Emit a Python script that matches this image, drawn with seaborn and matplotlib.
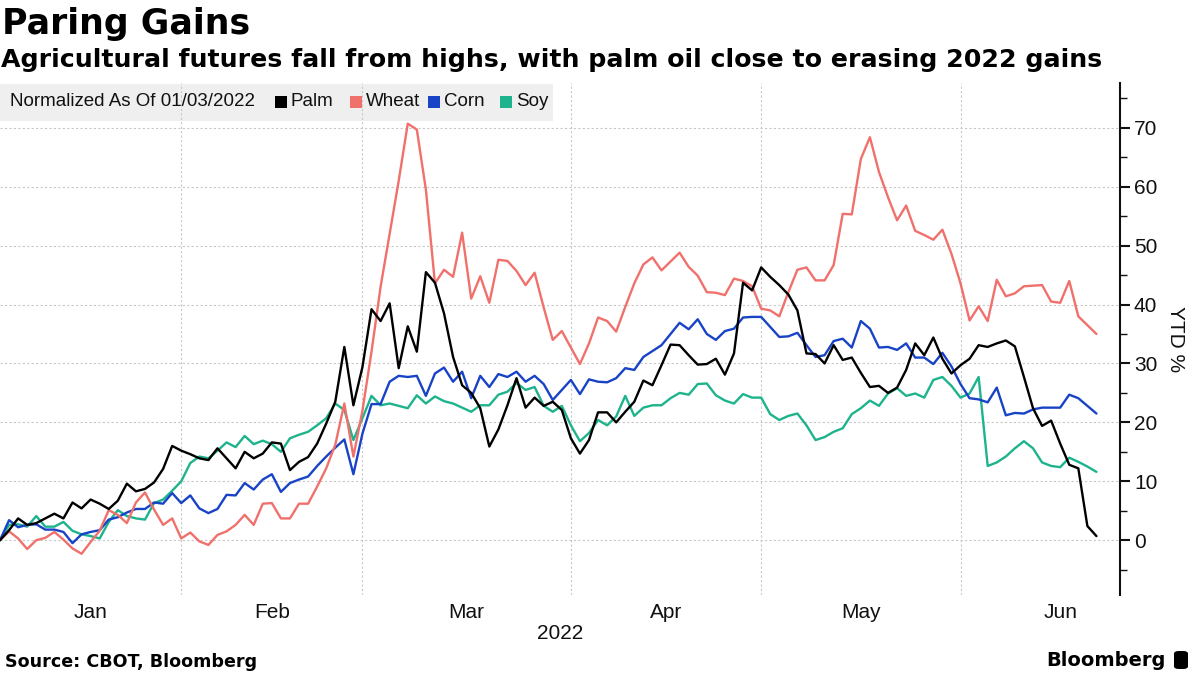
import pandas as pd
import matplotlib.pyplot as plt
import matplotlib.ticker as mticker
from matplotlib.patches import Rectangle, FancyBboxPatch
import seaborn as sns

# Giorni di borsa (il 17 gennaio manca nella serie)
dates = pd.bdate_range('2022-01-03', '2022-06-22').drop(pd.Timestamp('2022-01-17'))

# Valori YTD %
palm = [0, 1.7, 3.7, 2.6, 2.9, 3.7, 4.5, 3.7, 6.4, 5.4,
        6.9, 6.2, 5.3, 6.7, 9.6, 8.3, 8.7, 9.8, 12.1, 16.0,
        15.2, 14.6, 13.9, 13.6, 15.6, 13.9, 12.2, 15.0, 13.9, 14.7,
        16.6, 16.4, 11.9, 13.3, 14.1, 16.4, 19.8, 23.5, 32.8, 22.9,
        29.4, 39.2, 37.2, 40.2, 29.2, 36.3, 32.0, 45.5, 43.7, 38.5,
        31.1, 26.3, 25.0, 22.4, 15.9, 18.8, 22.9, 27.5, 22.5, 24.2,
        22.8, 23.5, 22.1, 17.3, 14.7, 17.0, 21.7, 21.7, 20.0, 21.8,
        23.5, 27.1, 26.3, 29.7, 33.2, 33.1, 31.4, 29.8, 29.9, 30.8,
        28.1, 31.7, 43.7, 42.4, 46.3, 44.7, 43.3, 41.7, 39.0, 31.7,
        31.6, 30.0, 33.1, 30.6, 31.0, 28.4, 26.0, 26.2, 25.0, 25.9,
        28.9, 33.4, 31.4, 34.4, 30.8, 28.3, 29.7, 30.8, 33.1, 32.8,
        33.4, 33.9, 32.9, 27.7, 22.4, 19.4, 20.3, 16.4, 12.8, 12.2,
        2.4, 0.7]
wheat = [0, 1.5, 0.3, -1.5, 0.0, 0.4, 1.4, 0.1, -1.4, -2.3,
         -0.3, 1.6, 5.1, 4.3, 2.9, 6.4, 8.1, 5.2, 2.6, 3.7,
         0.3, 1.3, -0.2, -0.8, 0.9, 1.5, 2.6, 4.3, 2.6, 6.2,
         6.3, 3.7, 3.7, 6.2, 6.2, 9.1, 12.2, 16.2, 23.2, 14.2,
         22.0, 32.0, 43.0, 52.0, 61.0, 70.7, 69.7, 59.5, 43.6, 45.9,
         44.7, 52.2, 41.0, 44.8, 40.3, 47.6, 47.4, 45.7, 43.3, 45.4,
         39.5, 34.0, 35.5, 32.7, 29.9, 33.4, 37.8, 37.2, 35.4, 39.6,
         43.6, 46.8, 48.0, 45.8, 47.3, 48.8, 46.4, 44.9, 42.1, 42.0,
         41.6, 44.4, 44.0, 43.1, 39.3, 39.0, 38.0, 42.1, 45.9, 46.3,
         44.1, 44.1, 46.7, 55.4, 55.3, 64.7, 68.4, 62.5, 58.2, 54.3,
         56.8, 52.5, 51.8, 51.0, 52.7, 48.6, 43.6, 37.3, 39.7, 37.2,
         44.2, 41.4, 41.9, 43.1, 43.2, 43.3, 40.5, 40.3, 44.0, 38.0,
         36.5, 35.0]
corn = [0, 3.4, 2.2, 2.6, 2.7, 1.8, 1.8, 1.4, -0.5, 1.0,
        1.4, 1.7, 3.5, 3.9, 4.7, 5.3, 5.3, 6.4, 6.2, 8.0,
        6.3, 7.6, 5.4, 4.6, 5.3, 7.7, 7.6, 9.7, 8.6, 10.3,
        11.2, 8.2, 9.7, 10.3, 10.8, 12.6, 14.2, 15.7, 17.1, 11.2,
        18.1, 23.1, 23.1, 26.9, 27.9, 27.7, 27.9, 24.5, 28.3, 29.3,
        26.9, 28.6, 24.1, 27.9, 26.0, 28.2, 27.7, 28.6, 26.9, 27.9,
        26.5, 23.8, 25.5, 27.2, 24.8, 27.3, 26.9, 26.8, 27.5, 29.2,
        28.9, 31.1, 32.1, 33.1, 35.0, 36.9, 35.8, 37.5, 35.0, 34.0,
        35.5, 35.9, 37.8, 37.9, 37.9, 36.2, 34.5, 34.6, 35.2, 33.1,
        31.1, 31.4, 33.8, 34.2, 32.7, 37.2, 35.9, 32.7, 32.8, 32.3,
        33.4, 31.0, 31.0, 29.9, 31.8, 29.5, 26.5, 24.1, 23.9, 23.4,
        25.9, 21.2, 21.6, 21.5, 22.2, 22.5, 22.5, 22.5, 24.7, 24.1,
        22.8, 21.5]
soy = [0, 2.6, 2.7, 2.3, 4.1, 2.3, 2.3, 3.1, 1.6, 1.0,
       0.7, 0.3, 3.1, 5.1, 4.1, 3.7, 3.5, 6.3, 6.9, 8.4,
       10.0, 13.1, 14.2, 13.9, 15.2, 16.6, 15.8, 17.7, 16.3, 16.9,
       16.3, 15.0, 17.3, 17.9, 18.4, 19.5, 20.7, 23.2, 22.1, 17.0,
       20.7, 24.5, 22.9, 23.2, 22.8, 22.4, 24.6, 23.2, 24.4, 23.6,
       23.2, 22.5, 21.8, 22.9, 22.9, 24.7, 25.2, 26.7, 25.5, 26.0,
       22.8, 21.8, 22.8, 19.5, 16.8, 18.2, 20.4, 19.5, 21.0, 24.5,
       21.1, 22.5, 22.9, 22.9, 24.1, 25.0, 24.7, 26.5, 26.6, 24.6,
       23.7, 23.2, 24.8, 24.2, 24.2, 21.4, 20.4, 21.1, 21.5, 19.5,
       17.0, 17.5, 18.4, 19.0, 21.4, 22.4, 23.7, 22.8, 24.9, 25.8,
       24.5, 24.9, 24.2, 27.2, 27.7, 26.2, 24.2, 24.9, 27.7, 12.6,
       13.2, 14.2, 15.6, 16.8, 15.6, 13.2, 12.6, 12.4, 14.0, 13.3,
       12.5, 11.6]

serie = ['Palm', 'Wheat', 'Corn', 'Soy']
colori = {'Palm': '#000000', 'Wheat': '#f0706c', 'Corn': '#1843c6', 'Soy': '#1db38c'}

df = pd.DataFrame({'giorno': range(len(dates)), 'Palm': palm, 'Wheat': wheat,
                   'Corn': corn, 'Soy': soy})
df = df.melt(id_vars='giorno', var_name='serie', value_name='ytd')

# Calendario fino a fine giugno per le etichette dei mesi
cal = pd.bdate_range('2022-01-03', '2022-06-30').drop(pd.Timestamp('2022-01-17'))
inizi_mese = [i for i in range(1, len(cal)) if cal[i].month != cal[i - 1].month]
limiti = [0] + inizi_mese + [len(cal)]
centri = [(limiti[k] + limiti[k + 1]) / 2 for k in range(len(limiti) - 1)]
nomi_mesi = ['Jan', 'Feb', 'Mar', 'Apr', 'May', 'Jun']

sns.set_style('white')
plt.rcParams['font.family'] = ['Liberation Sans', 'DejaVu Sans']

W, H = 1200, 675
fig = plt.figure(figsize=(12, 6.75), dpi=100)
ax = fig.add_axes([0, 1 - 595 / H, 1120 / W, (595 - 83) / H])

sns.lineplot(data=df, x='giorno', y='ytd', hue='serie', hue_order=serie[::-1],
             palette=colori, linewidth=1.7, legend=False, ax=ax)

ax.set_xlim(0, 123.6)
ax.set_ylim(-9.3, 77.6)

# Asse x: griglia all'inizio del mese, etichette a metà mese
ax.set_xticks(inizi_mese)
ax.set_xticklabels([])
ax.set_xticks(centri, minor=True)
ax.set_xticklabels(nomi_mesi, minor=True)
ax.tick_params(axis='x', which='both', length=0, labelsize=15, colors='#111111', pad=6)
ax.set_xlabel('2022', fontsize=15, color='#111111', labelpad=1)

# Asse y a destra
ax.yaxis.tick_right()
ax.yaxis.set_label_position('right')
ax.set_yticks(range(0, 80, 10))
ax.yaxis.set_minor_locator(mticker.MultipleLocator(5))
ax.tick_params(axis='y', which='major', length=7, width=1.5, labelsize=15, pad=3, colors='#111111')
ax.tick_params(axis='y', which='minor', length=5, width=1, colors='#111111')
ax.set_ylabel('YTD %', fontsize=15, rotation=270, labelpad=20, color='#111111')

for lato in ['top', 'left', 'bottom']:
    ax.spines[lato].set_visible(False)
ax.spines['right'].set_color('#111111')
ax.spines['right'].set_linewidth(1.5)

ax.set_axisbelow(True)
ax.grid(axis='both', which='major', linestyle=(0, (2, 2)), color='#c8c8c8', linewidth=0.8)

# Box della legenda
ax.add_patch(Rectangle((0, 1 - 121 / H), 553 / W, 37 / H, transform=fig.transFigure,
                       facecolor='#efefef', edgecolor='none', zorder=0.3, clip_on=False))
y_leg = 1 - 102 / H
fig.text(10 / W, y_leg, 'Normalized As Of 01/03/2022', fontsize=13.5, va='center', color='#111111')
for nome, px in zip(serie, [275, 350, 428, 500]):
    ax.add_patch(Rectangle((px / W, 1 - 108 / H), 12 / W, 12 / H, transform=fig.transFigure,
                           facecolor=colori[nome], edgecolor='none', clip_on=False))
    fig.text((px + 16) / W, y_leg, nome, fontsize=13.5, va='center', color='#111111')

# Titoli
fig.text(2 / W, 1 - 7 / H, 'Paring Gains', fontsize=25, weight='bold', va='top',
         family='DejaVu Sans', color='#000000')
fig.text(1 / W, 1 - 60 / H,
         'Agricultural futures fall from highs, with palm oil close to erasing 2022 gains',
         fontsize=18.2, weight='bold', va='center', family='DejaVu Sans', color='#000000')

# Piè di pagina
fig.text(5 / W, 1 - 662 / H, 'Source: CBOT, Bloomberg', fontsize=12.6, weight='bold',
         va='center', family='DejaVu Sans', color='#000000')
fig.text(1166 / W, 1 - 660 / H, 'Bloomberg', fontsize=14, weight='bold', ha='right',
         va='center', family='DejaVu Sans', color='#000000')
fig.add_artist(FancyBboxPatch((1174 / W, 1 - 669 / H), 14 / W, 18 / H,
                              boxstyle='round,pad=0,rounding_size=0.004',
                              transform=fig.transFigure, facecolor='#000000', edgecolor='none'))

fig.savefig('out.png', dpi=100)
